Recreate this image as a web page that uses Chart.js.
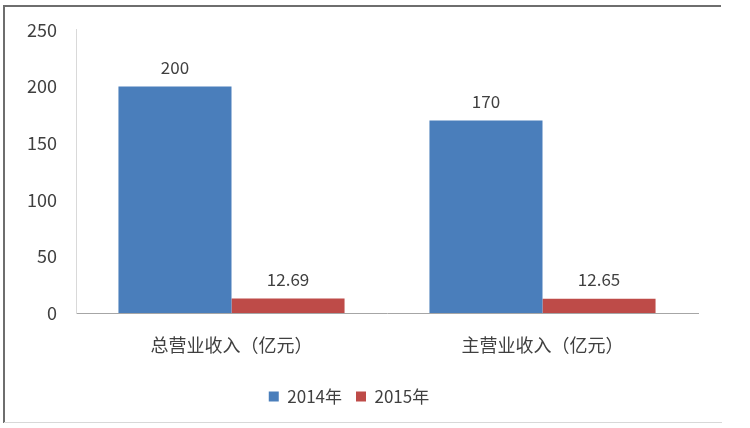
<!DOCTYPE html>
<html>
<head>
<meta charset="utf-8">
<script src="https://cdn.jsdelivr.net/npm/chart.js@4/dist/chart.umd.min.js"></script>
<style>
  body { margin: 0; background: #fff; }
  #wrap { width: 750px; height: 428px; position: relative; }
</style>
</head>
<body>
<div id="wrap"><canvas id="grafico" width="750" height="428"></canvas></div>
<script>
// Datos del gráfico
const categorias = ['总营业收入（亿元）', '主营业收入（亿元）'];
const serie2014 = [200, 170];
const serie2015 = [12.69, 12.65];
const etiquetasSeries = ['2014年', '2015年'];
const ticksY = [0, 50, 100, 150, 200, 250];

const fuente = "'Noto Sans CJK SC', 'DejaVu Sans', sans-serif";

// Marco gris alrededor de la imagen
const marco = {
    id: 'marco',
    beforeDraw(chart) {
        const c = chart.ctx;
        c.save();
        c.fillStyle = '#fff';
        c.fillRect(0, 0, chart.width, chart.height);
        c.strokeStyle = '#6e6e6e';
        c.lineWidth = 2;
        c.beginPath();
        c.moveTo(4, 423);
        c.lineTo(4, 6);
        c.lineTo(721, 6);
        c.stroke();
        c.strokeStyle = '#d8d8d8';
        c.lineWidth = 1;
        c.beginPath();
        c.moveTo(4, 422.5);
        c.lineTo(722, 422.5);
        c.stroke();
        c.restore();
    }
};

// Valores encima de las barras
const etiquetasValor = {
    id: 'etiquetasValor',
    afterDatasetsDraw(chart) {
        const c = chart.ctx;
        c.save();
        c.font = '17px ' + fuente;
        c.fillStyle = '#404040';
        c.textAlign = 'center';
        c.textBaseline = 'middle';
        chart.data.datasets.forEach((ds, i) => {
            chart.getDatasetMeta(i).data.forEach((bar, j) => {
                c.fillText(String(ds.data[j]), bar.x, bar.y - 19);
            });
        });
        c.restore();
    }
};

new Chart(document.getElementById('grafico'), {
    type: 'bar',
    data: {
        labels: categorias,
        datasets: [{
            label: etiquetasSeries[0],
            data: serie2014,
            backgroundColor: '#4a7ebb'
        }, {
            label: etiquetasSeries[1],
            data: serie2015,
            backgroundColor: '#be4b48'
        }]
    },
    options: {
        responsive: false,
        animation: false,
        layout: { padding: { top: 27, right: 52, bottom: 13, left: 0 } },
        datasets: {
            bar: { barPercentage: 1, categoryPercentage: 0.727 }
        },
        scales: {
            x: {
                grid: { display: false, drawTicks: false },
                border: { color: '#a6a6a6', width: 1 },
                ticks: { color: '#404040', font: { size: 18, family: fuente }, padding: 21 },
                afterFit(scale) { scale.height = 61; }
            },
            y: {
                min: 0,
                max: 250,
                afterBuildTicks(scale) { scale.ticks = ticksY.map(v => ({ value: v })); },
                grid: { display: false, drawTicks: false },
                border: { color: '#d9d9d9', width: 1 },
                ticks: { color: '#404040', font: { size: 18, family: fuente }, padding: 19 },
                afterFit(scale) { scale.width = 76; }
            }
        },
        plugins: {
            legend: {
                position: 'bottom',
                labels: {
                    boxWidth: 10,
                    boxHeight: 10,
                    padding: 14,
                    color: '#404040',
                    font: { size: 17, family: fuente }
                }
            },
            tooltip: { enabled: false }
        }
    },
    plugins: [marco, etiquetasValor]
});
</script>
</body>
</html>
